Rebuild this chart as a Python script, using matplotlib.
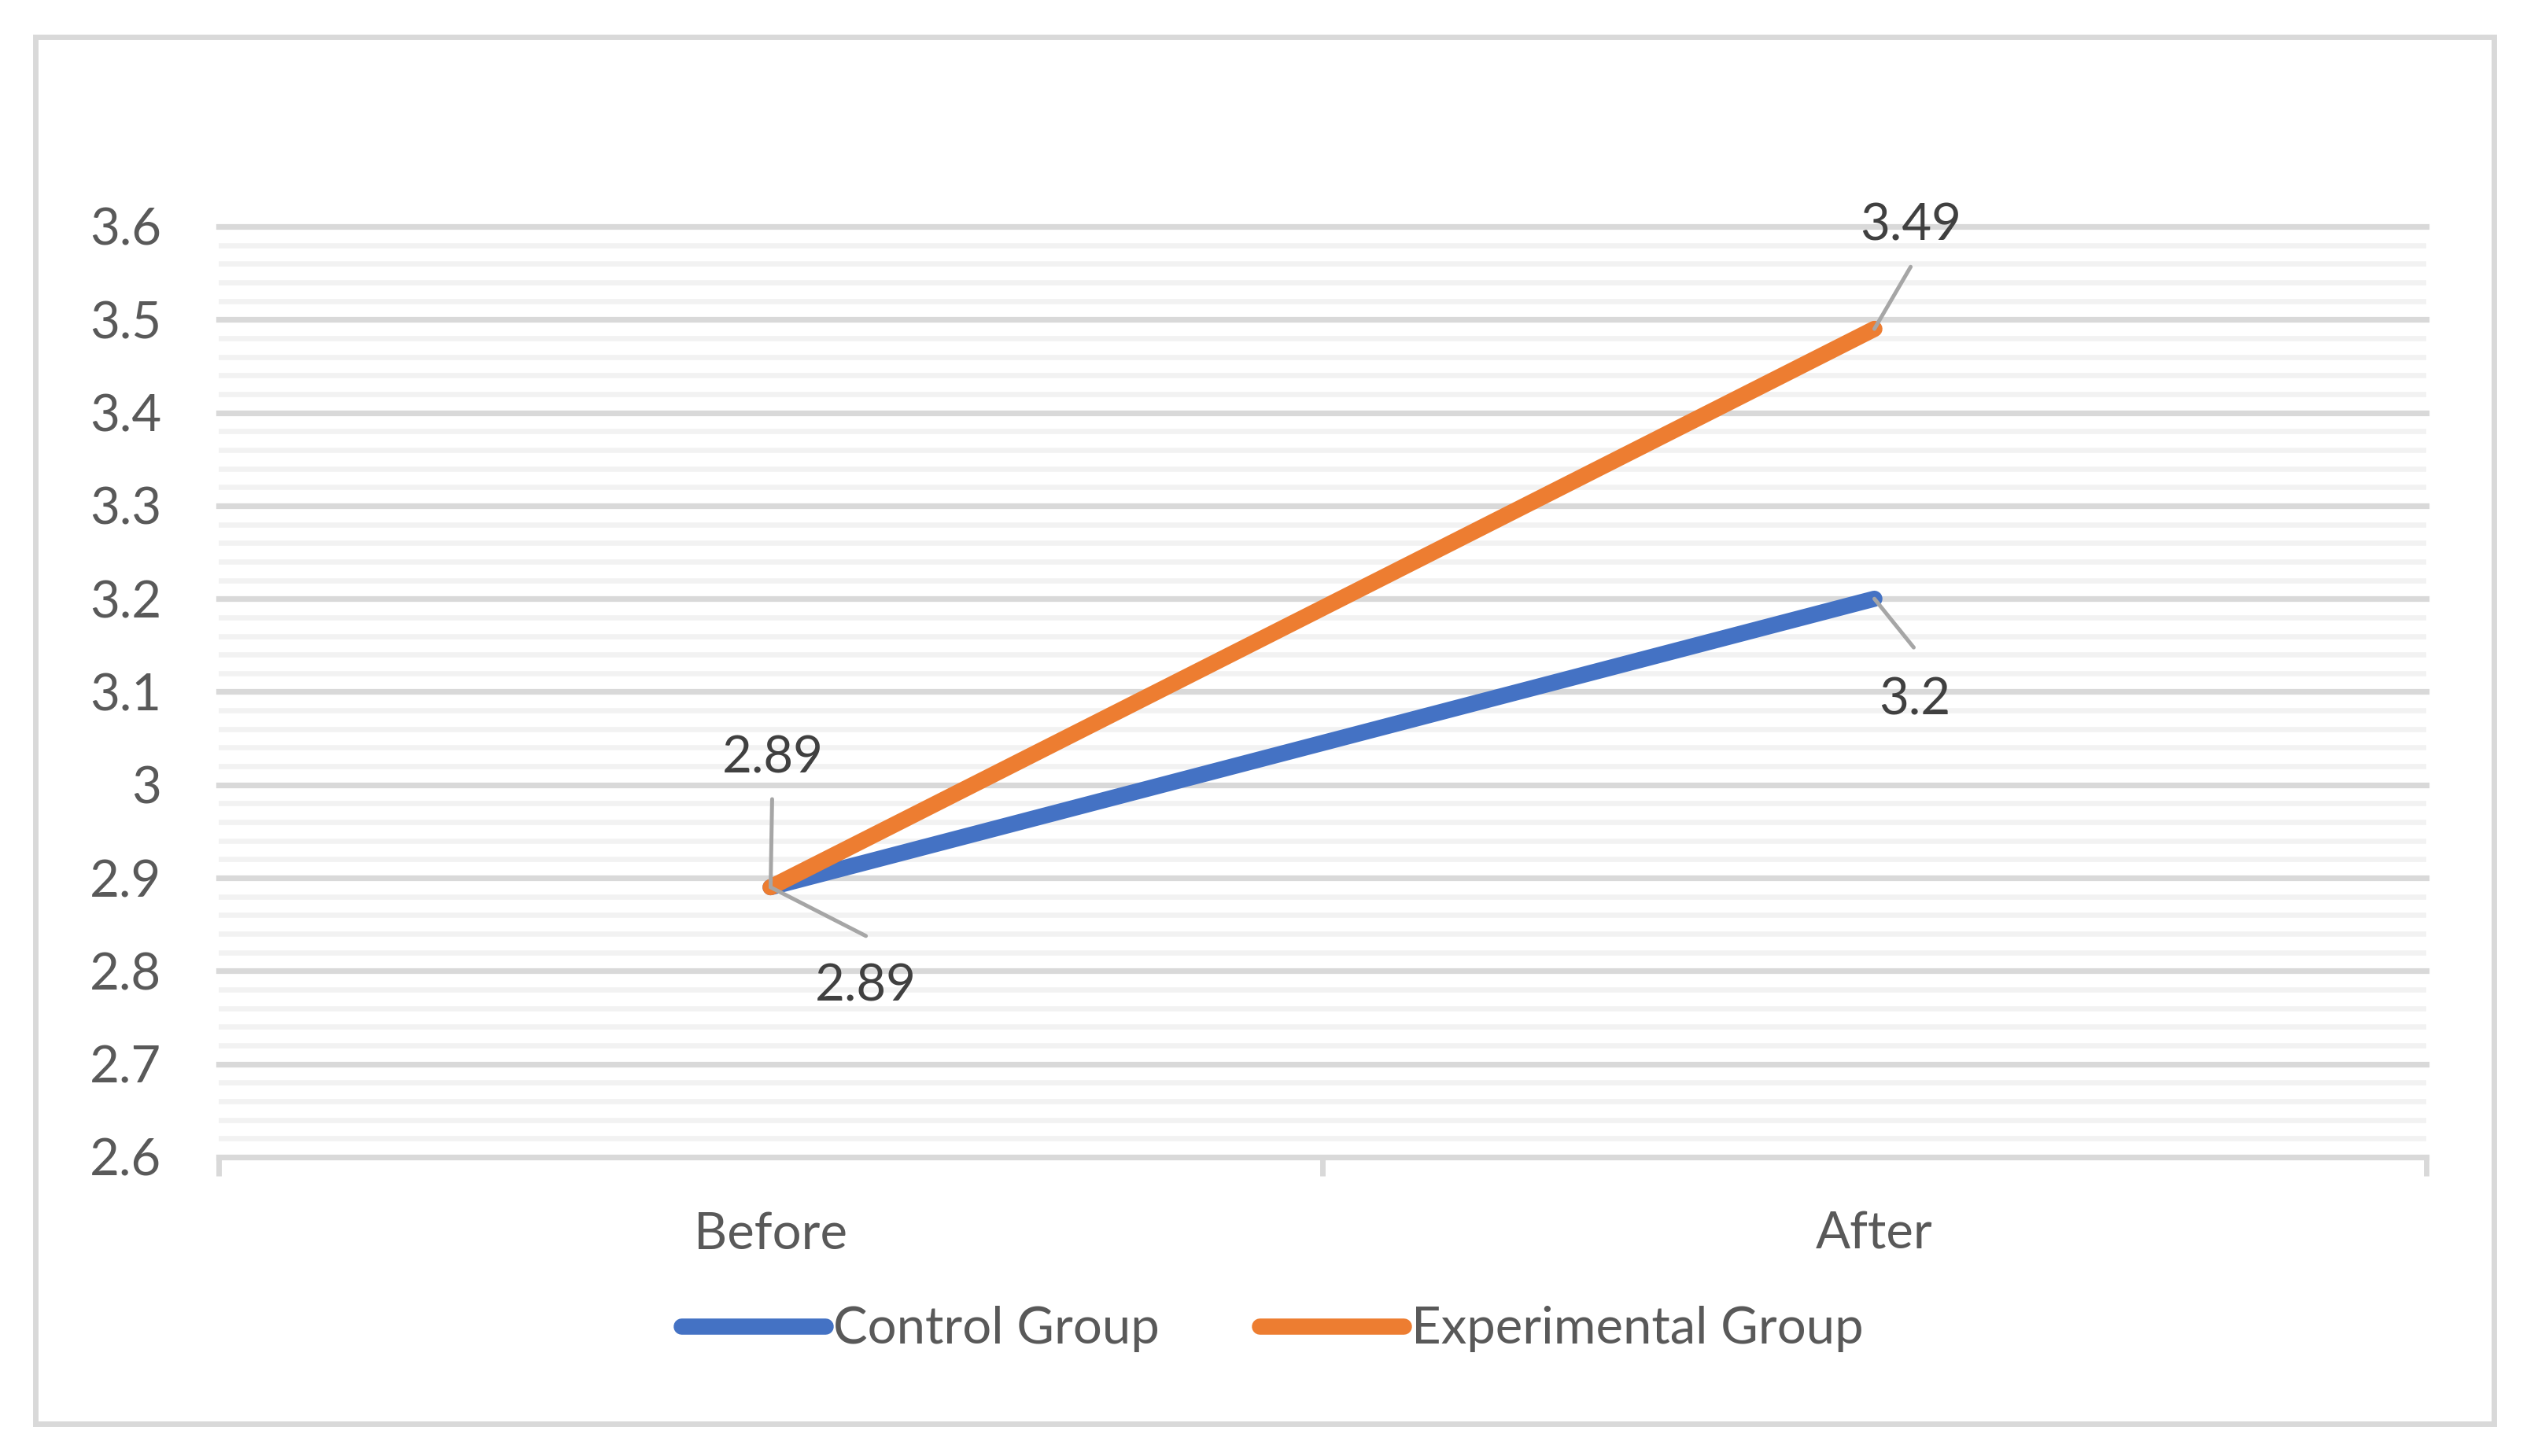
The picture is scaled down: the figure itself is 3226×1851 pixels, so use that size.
import matplotlib.pyplot as plt
import numpy as np
from matplotlib.ticker import MultipleLocator, FuncFormatter
from matplotlib.patches import Rectangle

# data
categories = ['Before', 'After']
control = [2.89, 3.2]
experimental = [2.89, 3.49]
series_names = ['Control Group', 'Experimental Group']
y_ticks = [2.6, 2.7, 2.8, 2.9, 3.0, 3.1, 3.2, 3.3, 3.4, 3.5, 3.6]

colors = ['#4472C4', '#ED7D31']
# label placement: (leader end offset, label baseline offset), in points
label_pos = {
    'Control Group': [((43.6, -22.3), (43.6, -52.2)), ((18.0, -22.3), (18.4, -52.9))],
    'Experimental Group': [((0.7, 40.3), (1.1, 52.2)), ((16.6, 28.4), (16.6, 40.7))],
}

plt.rcParams['font.family'] = ['Lato', 'DejaVu Sans']
FS = 23.5

fig = plt.figure(figsize=(16.13, 9.255), dpi=200)
ax = fig.add_axes([0.08617, 0.2053, 0.86981, 0.63911])

x = np.arange(len(categories)) + 0.5
for name, vals, c in zip(series_names, [control, experimental], colors):
    ax.plot(x, vals, color=c, lw=7.4, solid_capstyle='round', label=name, zorder=3)

for name, vals in zip(series_names, [control, experimental]):
    for xi, v, (lead, txt) in zip(x, vals, label_pos[name]):
        ax.annotate('', xy=(xi, v), xytext=lead, textcoords='offset points',
                    arrowprops=dict(arrowstyle='-', color='#A6A6A6', lw=1.8,
                                    shrinkA=0, shrinkB=0), zorder=4)
        ax.annotate('%g' % v, xy=(xi, v), xytext=txt, textcoords='offset points',
                    ha='center', va='baseline', fontsize=FS, color='#404040', zorder=5)

ax.set_xlim(0, len(categories))
ax.set_ylim(y_ticks[0], y_ticks[-1])
ax.set_yticks(y_ticks)
ax.yaxis.set_major_formatter(FuncFormatter(lambda v, p: '%g' % round(v, 2)))
ax.yaxis.set_minor_locator(MultipleLocator(0.02))
ax.set_xticks(np.arange(len(categories) + 1))
ax.set_xticklabels([])
ax.set_xticks(x, categories, minor=True)

ax.grid(axis='y', which='major', color='#D9D9D9', lw=2.6, zorder=1)
ax.grid(axis='y', which='minor', color='#F2F2F2', lw=2.4, zorder=0)
for gl in ax.get_ygridlines():
    gl.set_clip_on(False)
ax.set_axisbelow(True)

for s in ax.spines.values():
    s.set_visible(False)
ax.tick_params(axis='y', which='both', length=0, pad=26.3, labelsize=FS, labelcolor='#595959')
ax.tick_params(axis='x', which='major', length=8.6, width=2.5, color='#D9D9D9', direction='out')
ax.tick_params(axis='x', which='minor', length=0, pad=24.8, labelsize=FS, labelcolor='#595959')

leg = fig.legend(loc='center', bbox_to_anchor=(0.5014, 0.087), ncol=2, frameon=False,
                 fontsize=FS, handlelength=2.8, handletextpad=0.16, columnspacing=1.95,
                 borderpad=0, labelcolor='#595959')

# chart area border
fig.patches.append(Rectangle((0.01395, 0.02215), 0.98264 - 0.01395, 0.97461 - 0.02215,
                             transform=fig.transFigure, fill=False, ec='#D9D9D9', lw=2.5))

fig.savefig('out.png', dpi=200, facecolor='white')
